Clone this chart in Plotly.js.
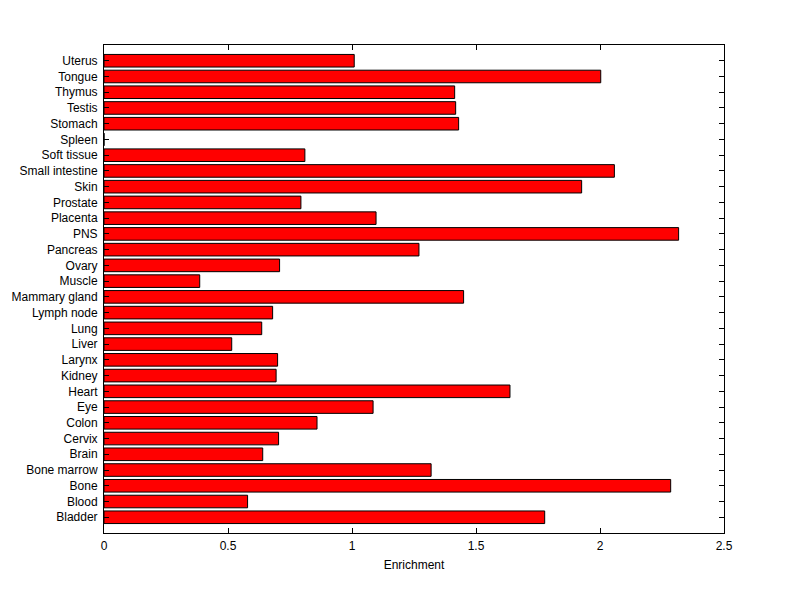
<!DOCTYPE html>
<html>
<head>
<meta charset="utf-8">
<script src="https://cdn.plot.ly/plotly-3.0.1.min.js"></script>
<style>html,body{margin:0;padding:0;background:#fff;}#chart{width:800px;height:599px;}</style>
</head>
<body>
<div id="chart"></div>
<script>
const tissues = ["Bladder","Blood","Bone","Bone marrow","Brain","Cervix","Colon","Eye","Heart","Kidney",
  "Larynx","Liver","Lung","Lymph node","Mammary gland","Muscle","Ovary","Pancreas","PNS","Placenta",
  "Prostate","Skin","Small intestine","Soft tissue","Spleen","Stomach","Testis","Thymus","Tongue","Uterus"];
const enrichment = [1.777,0.579,2.285,1.319,0.640,0.704,0.859,1.085,1.637,0.694,
  0.700,0.515,0.636,0.680,1.450,0.386,0.708,1.270,2.317,1.097,
  0.794,1.926,2.058,0.810,0,1.430,1.418,1.414,2.003,1.009];
const xTicks = [0,0.5,1,1.5,2,2.5];
const xTickText = ["0","0.5","1","1.5","2","2.5"];

const positions = tissues.map((_, i) => i);

Plotly.newPlot('chart', [{
  type: 'bar',
  orientation: 'h',
  x: enrichment,
  y: positions,
  width: 0.8,
  marker: {color: '#ff0000', line: {color: '#000000', width: 1}},
  hoverinfo: 'x+text',
  text: tissues,
  textposition: 'none'
}], {
  width: 800, height: 599,
  margin: {l: 104, r: 76, t: 45, b: 66, pad: 0},
  paper_bgcolor: '#ffffff', plot_bgcolor: '#ffffff',
  font: {family: 'Liberation Sans, Arial, sans-serif', size: 12, color: '#000'},
  showlegend: false,
  xaxis: {
    range: [0, 2.5], tickvals: xTicks, ticktext: xTickText,
    ticks: 'inside', ticklen: 5, tickcolor: '#000', tickwidth: 1,
    showline: true, linecolor: '#000', linewidth: 1, mirror: 'ticks',
    showgrid: false, zeroline: false,
    ticklabelstandoff: 2,
    title: {text: 'Enrichment', font: {size: 12}, standoff: 8},
    tickfont: {size: 12}
  },
  yaxis: {
    range: [-1, 30], tickvals: positions, ticktext: tissues,
    ticks: 'inside', ticklen: 5, tickcolor: '#000', tickwidth: 1,
    showline: true, linecolor: '#000', linewidth: 1, mirror: 'ticks',
    showgrid: false, zeroline: false,
    ticklabelstandoff: 3,
    tickfont: {size: 12}
  }
}, {displayModeBar: false, staticPlot: true});
</script>
</body>
</html>
